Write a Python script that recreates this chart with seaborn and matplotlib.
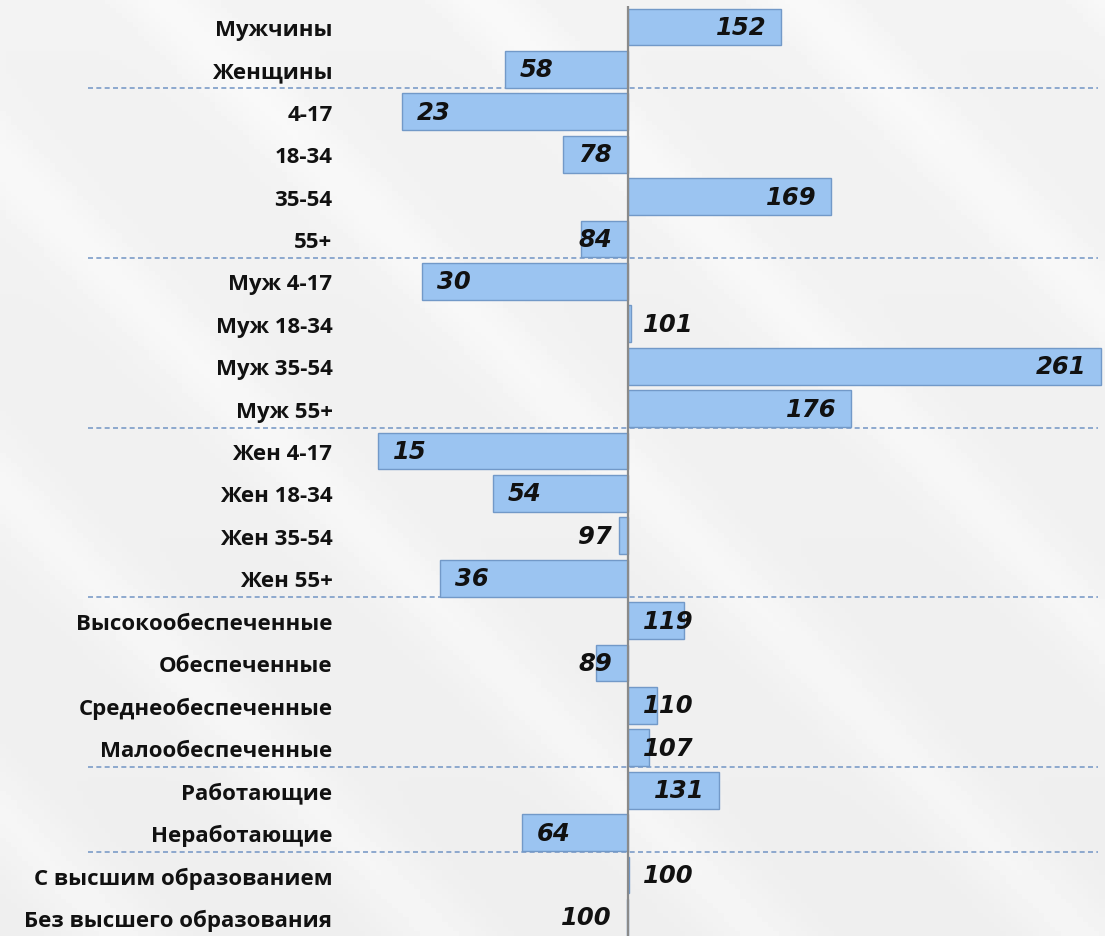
import numpy as np
import matplotlib
matplotlib.use("Agg")
import matplotlib.pyplot as plt
import seaborn as sns

categories = [
    "Мужчины", "Женщины",
    "4-17", "18-34", "35-54", "55+",
    "Муж 4-17", "Муж 18-34", "Муж 35-54", "Муж 55+",
    "Жен 4-17", "Жен 18-34", "Жен 35-54", "Жен 55+",
    "Высокообеспеченные", "Обеспеченные", "Среднеобеспеченные", "Малообеспеченные",
    "Работающие", "Неработающие",
    "С высшим образованием", "Без высшего образования",
]
values = [152, 58, 23, 78, 169, 84, 30, 101, 261, 176, 15, 54, 97, 36,
          119, 89, 110, 107, 131, 64, 100.4, 99.6]
baseline = 100
group_breaks = [1, 5, 9, 13, 17, 19]  # separator after these row indices

sns.set_theme(style="white")
plt.rcParams["font.family"] = ["Open Sans", "DejaVu Sans"]

W, H = 1105, 937
fig = plt.figure(figsize=(W / 100, H / 100), dpi=100)
fig.patch.set_facecolor("#EEEFF2")

# subtle background gradient
bg = fig.add_axes([0, 0, 1, 1], zorder=-10)
yy, xx = np.mgrid[0:1:200j, 0:1:200j]
grad = 0.935 + 0.025 * np.sin((xx * 1.2 - yy) * 9) ** 8 + 0.015 * (1 - yy)
bg.imshow(grad, cmap="gray", vmin=0, vmax=1, aspect="auto", extent=[0, 1, 0, 1])
bg.axis("off")

row_px = 42.4
top_px = 28 - 0.5 * row_px
left_px = 345
ax = fig.add_axes([left_px / W, 0, 1 - left_px / W, 1 - top_px / H])
ax.set_facecolor("none")

deltas = [v - baseline for v in values]
sns.barplot(x=deltas, y=categories, orient="h", color="#9BC4F1", saturation=1,
            width=0.87, edgecolor="#7299C8", linewidth=1.0, ax=ax, zorder=3)

px_per_unit = 2.94
ax.set_xlim(-(628 - left_px) / px_per_unit, (W - 628) / px_per_unit)
nrows = (H - top_px) / row_px
ax.set_ylim(-0.5 + nrows, -0.5)

# central axis line
ax.axvline(0, color="#8A8A8A", lw=1.6, zorder=4)

# group separators
x0 = (88 - left_px) / (W - left_px)
x1 = (1098 - left_px) / (W - left_px)
for b in group_breaks:
    ax.axhline(b + 0.45, xmin=x0, xmax=x1, clip_on=False, color="#7C9CC8",
               lw=1.2, ls=(0, (3, 2)), zorder=1)

# value labels
fs_val = 17.5
for i, (v, d) in enumerate(zip(values, deltas)):
    txt = f"{round(v):d}"
    w = 5.8 * len(txt)
    kw = dict(va="center", fontsize=fs_val, fontweight="bold", style="italic",
              family="DejaVu Sans", color="#111111", zorder=5)
    if d >= 0:
        xr = max(d - 5, 5 + w)
        ax.text(xr, i, txt, ha="right", **kw)
    else:
        if d + 5 + w <= -5.5:
            ax.text(d + 5, i, txt, ha="left", **kw)
        else:
            ax.text(-5.5, i, txt, ha="right", **kw)

ax.set_xlabel("")
ax.set_ylabel("")
ax.set_xticks([])
ax.tick_params(axis="y", length=0, pad=9)
for lab in ax.get_yticklabels():
    lab.set_fontsize(16)
    lab.set_fontweight("bold")
    lab.set_color("#111111")
for s in ax.spines.values():
    s.set_visible(False)

fig.savefig("out.png", dpi=100)
